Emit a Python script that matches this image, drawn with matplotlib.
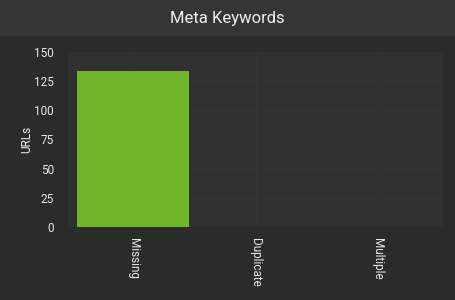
import matplotlib.pyplot as plt
from matplotlib.patches import Rectangle

categorias = ["Missing", "Duplicate", "Multiple"]
valores = [134, 0, 0]
ticks_y = [0, 25, 50, 75, 100, 125, 150]

plt.rcParams['font.family'] = ['Roboto', 'DejaVu Sans']

fig = plt.figure(figsize=(4.55, 3.0), dpi=100)
fig.patch.set_facecolor("#2b2b2b")

# faixa do titulo
fig.patches.append(Rectangle((0, 1 - 36 / 300), 1, 36 / 300, transform=fig.transFigure,
                             facecolor="#353535", edgecolor="none", zorder=0))
fig.text(0.5, 1 - 19 / 300, "Meta Keywords", ha="center", va="center",
         fontsize=12, color="#f0f0f0")

ax = fig.add_axes([68 / 455, 1 - 227 / 300, 375 / 455, 175 / 300])
ax.set_facecolor("#303030")

x = range(len(categorias))
ax.bar(x, valores, width=0.92, color="#70b52a", zorder=2)

ax.set_xlim(-0.5 - 4 / 122, 2.5 + 4 / 122)
ax.set_ylim(0, 150)
ax.set_yticks(ticks_y)
ax.set_xticks(list(x))
ax.set_xticklabels(categorias, rotation=-90, fontsize=8.5, color="#e8e8e8")
ax.tick_params(axis="y", labelsize=8.5, colors="#e8e8e8", length=0, pad=10)
ax.tick_params(axis="x", length=0, pad=8)
ax.grid(True, color="#343434", linewidth=0.8, zorder=0)
for s in ax.spines.values():
    s.set_visible(False)

ax.set_ylabel("URLs", color="#f0f0f0", fontsize=8.5, labelpad=1)

plt.savefig("out.png", facecolor=fig.get_facecolor())
plt.close()
